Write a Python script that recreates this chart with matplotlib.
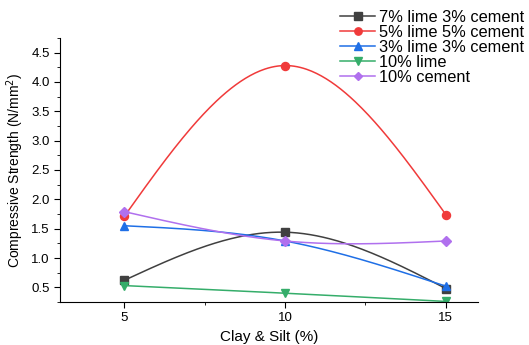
import numpy as np
import matplotlib.pyplot as plt
from matplotlib.ticker import MultipleLocator

plt.rcParams['font.family'] = ['Liberation Sans', 'DejaVu Sans']

clay_silt = [5, 10, 15]
lime7_cem3 = [0.62, 1.44, 0.48]
lime5_cem5 = [1.71, 4.28, 1.74]
lime3_cem3 = [1.55, 1.29, 0.52]
lime10 = [0.53, 0.40, 0.26]
cement10 = [1.79, 1.29, 1.29]

labels = ['7% lime 3% cement', '5% lime 5% cement', '3% lime 3% cement',
          '10% lime', '10% cement']
colors = ['#404040', '#f03a3a', '#1f6fe6', '#35ad6a', '#b070ee']
markers = ['s', 'o', '^', 'v', 'D']


def natural_spline(x, y, n=200):
    # natural cubic spline through the points (like Origin's spline connect)
    x = np.asarray(x, float)
    y = np.asarray(y, float)
    k = len(x)
    h = np.diff(x)
    A = np.zeros((k, k))
    b = np.zeros(k)
    A[0, 0] = 1
    A[-1, -1] = 1
    for i in range(1, k - 1):
        A[i, i - 1] = h[i - 1]
        A[i, i] = 2 * (h[i - 1] + h[i])
        A[i, i + 1] = h[i]
        b[i] = 6 * ((y[i + 1] - y[i]) / h[i] - (y[i] - y[i - 1]) / h[i - 1])
    M = np.linalg.solve(A, b)
    xs = np.linspace(x[0], x[-1], n)
    ys = np.zeros_like(xs)
    for j, xx in enumerate(xs):
        i = min(np.searchsorted(x, xx, side='right') - 1, k - 2)
        t1 = x[i + 1] - xx
        t0 = xx - x[i]
        ys[j] = (M[i] * t1 ** 3 + M[i + 1] * t0 ** 3) / (6 * h[i]) \
            + (y[i] / h[i] - M[i] * h[i] / 6) * t1 \
            + (y[i + 1] / h[i] - M[i + 1] * h[i] / 6) * t0
    return xs, ys


fig = plt.figure(figsize=(5.29, 3.45), dpi=100)
ax = fig.add_axes([0.1134, 0.1246, 0.7902, 0.7653])

series = [lime7_cem3, lime5_cem5, lime3_cem3, lime10, cement10]
handles = []
for vals, lab, c, m in zip(series, labels, colors, markers):
    ms = 5 if m == 'D' else 5.8
    xs, ys = natural_spline(clay_silt, vals)
    ax.plot(xs, ys, color=c, lw=1.1)
    ax.plot(clay_silt, vals, ls='none', marker=m, color=c, ms=ms)
    h, = ax.plot([], [], color=c, lw=1.1, marker=m, ms=ms - 0.5, label=lab)
    handles.append(h)

ax.set_xlim(3, 16)
ax.set_ylim(0.25, 4.75)
ax.set_xticks(clay_silt)
ax.xaxis.set_minor_locator(MultipleLocator(2.5))
ax.yaxis.set_major_locator(MultipleLocator(0.5))
ax.yaxis.set_minor_locator(MultipleLocator(0.25))
ax.spines['top'].set_visible(False)
ax.spines['right'].set_visible(False)
ax.tick_params(which='major', length=4, labelsize=9.5)
ax.tick_params(which='minor', length=2.5)
ax.set_xlabel('Clay & Silt (%)', fontsize=11, labelpad=4)
ax.set_ylabel('Compressive Strength (N/mm$^2$)', fontsize=10)

fig.legend(handles=handles, loc='upper right', bbox_to_anchor=(1.0, 0.985),
           frameon=False, fontsize=11.8, labelspacing=0.0, handlelength=2.1,
           handletextpad=0.25, borderpad=0.3, borderaxespad=0.0)

fig.savefig('out.png', dpi=100)
